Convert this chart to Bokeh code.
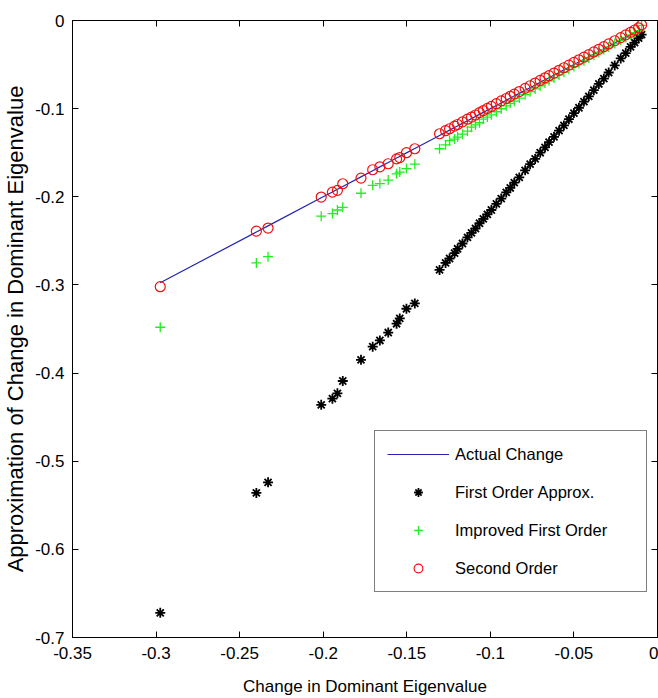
from bokeh.plotting import figure
from bokeh.models import LinearAxis, FixedTicker, Range1d
from bokeh.embed import file_html
from bokeh.resources import INLINE

# ---- data ----
actual = [-0.2975, -0.2400, -0.2330, -0.2012, -0.1945, -0.1915, -0.1883, -0.1774,
          -0.1704, -0.1661, -0.1611, -0.1561, -0.1542, -0.1502, -0.1452,
          -0.1304, -0.1268, -0.1244, -0.1214, -0.1196, -0.1167, -0.1137, -0.1113,
          -0.1089, -0.1065, -0.1042, -0.1018, -0.0994, -0.0964, -0.0935, -0.0905,
          -0.0881, -0.0857, -0.0827, -0.0792, -0.0762, -0.0732, -0.0702, -0.0673,
          -0.0649, -0.0619, -0.0589, -0.0560, -0.0530, -0.0500, -0.0470, -0.0440,
          -0.0411, -0.0381, -0.0351, -0.0321, -0.0292, -0.0256, -0.0220, -0.0190,
          -0.0161, -0.0137, -0.0113, -0.0095]

first_order = [-0.672, -0.536, -0.524, -0.436, -0.429, -0.423, -0.409, -0.385,
               -0.370, -0.363, -0.354, -0.344, -0.338, -0.327, -0.321,
               -0.283, -0.275, -0.270, -0.264, -0.259, -0.253, -0.246, -0.241,
               -0.236, -0.230, -0.225, -0.220, -0.215, -0.208, -0.202, -0.195,
               -0.190, -0.184, -0.178, -0.170, -0.163, -0.157, -0.150, -0.144,
               -0.138, -0.132, -0.125, -0.119, -0.112, -0.105, -0.099, -0.092,
               -0.086, -0.079, -0.072, -0.066, -0.059, -0.051, -0.043, -0.037,
               -0.030, -0.025, -0.020, -0.016]

improved_first = [-0.348, -0.275, -0.268, -0.222, -0.219, -0.215, -0.212, -0.196,
                  -0.187, -0.185, -0.181, -0.174, -0.172, -0.168, -0.163,
                  -0.1455, -0.1410, -0.1362, -0.1345, -0.1323, -0.1290, -0.1255, -0.1210,
                  -0.1185, -0.1160, -0.1118, -0.1096, -0.1070, -0.1035, -0.1001, -0.0968,
                  -0.0940, -0.0915, -0.0880, -0.0842, -0.0808, -0.0776, -0.0742, -0.0710,
                  -0.0684, -0.0651, -0.0618, -0.0586, -0.0554, -0.0521, -0.0489, -0.0457,
                  -0.0426, -0.0394, -0.0362, -0.0330, -0.0300, -0.0262, -0.0225, -0.0193,
                  -0.0163, -0.0139, -0.0114, -0.0055]

second_order = [-0.302, -0.239, -0.2355, -0.2003, -0.1947, -0.1927, -0.1852, -0.1788,
                -0.1693, -0.1660, -0.1625, -0.1570, -0.1555, -0.1500, -0.1455,
                -0.1285, -0.1250, -0.1228, -0.1198, -0.1180, -0.1150, -0.1120, -0.1096,
                -0.1072, -0.1045, -0.1022, -0.0998, -0.0975, -0.0944, -0.0912, -0.0885,
                -0.0860, -0.0835, -0.0806, -0.0770, -0.0740, -0.0710, -0.0680, -0.0650,
                -0.0626, -0.0596, -0.0565, -0.0536, -0.0506, -0.0476, -0.0446, -0.0416,
                -0.0387, -0.0357, -0.0327, -0.0297, -0.0266, -0.0230, -0.0194, -0.0163,
                -0.0134, -0.0108, -0.0083, -0.0050]

x_ticks = [-0.35, -0.3, -0.25, -0.2, -0.15, -0.1, -0.05, 0.0]
x_tick_labels = ["-0.35", "-0.3", "-0.25", "-0.2", "-0.15", "-0.1", "-0.05", "0"]
y_ticks = [-0.7, -0.6, -0.5, -0.4, -0.3, -0.2, -0.1, 0.0]
y_tick_labels = ["-0.7", "-0.6", "-0.5", "-0.4", "-0.3", "-0.2", "-0.1", "0"]

FONT = "Liberation Sans"

p = figure(width=658, height=698, output_backend="svg", toolbar_location=None,
           x_range=Range1d(-0.35, 0.0), y_range=Range1d(-0.7, 0.0),
           min_border_left=71, min_border_right=1, min_border_top=20,
           min_border_bottom=61, background_fill_color="white",
           border_fill_color="white")
p.xgrid.visible = False
p.ygrid.visible = False
p.outline_line_color = "black"
p.outline_line_width = 1

# glyphs
p.line(actual, actual, line_color="#2424b4", line_width=1.2, legend_label="Actual Change")
p.scatter(actual, first_order, marker="asterisk", size=10, line_color="black",
          line_width=1.8, legend_label="First Order Approx.")
p.scatter(actual, improved_first, marker="cross", size=10, line_color="#22ee22",
          line_width=1.3, legend_label="Improved First Order")
p.scatter(actual, second_order, marker="circle", size=10, line_color="#ee1111",
          fill_color=None, line_width=1.2, legend_label="Second Order")

def style_axis(ax, ticks, labels, show_labels=True):
    ax.ticker = FixedTicker(ticks=ticks)
    ax.major_tick_in = 6
    ax.major_tick_out = 0
    ax.minor_tick_in = 0
    ax.minor_tick_out = 0
    ax.axis_line_color = "black"
    ax.major_tick_line_color = "black"
    ax.axis_label_text_font = FONT
    ax.axis_label_text_font_style = "normal"
    ax.axis_label_text_color = "black"
    if show_labels:
        ax.major_label_overrides = {t: l for t, l in zip(ticks, labels)}
        ax.major_label_text_font = FONT
        ax.major_label_text_color = "black"
        ax.major_label_text_font_size = "17px"
    else:
        ax.major_label_text_color = None
        ax.major_label_text_font_size = "1px"
        ax.major_label_standoff = 0

xa = p.xaxis[0]
style_axis(xa, x_ticks, x_tick_labels)
xa.major_label_standoff = 9
xa.axis_label = "Change in Dominant Eigenvalue"
xa.axis_label_text_font_size = "17px"
xa.axis_label_standoff = 15

ya = p.yaxis[0]
style_axis(ya, y_ticks, y_tick_labels)
ya.major_label_standoff = 8
ya.axis_label = "Approximation of Change in Dominant Eigenvalue"
ya.axis_label_text_font_size = "22px"
ya.axis_label_standoff = 4

top = LinearAxis()
style_axis(top, x_ticks, x_tick_labels, show_labels=False)
p.add_layout(top, "above")
right = LinearAxis()
style_axis(right, y_ticks, y_tick_labels, show_labels=False)
p.add_layout(right, "right")

lg = p.legend[0]
lg.location = (302, 45)
lg.border_line_color = "black"
lg.border_line_width = 1
lg.background_fill_color = "white"
lg.background_fill_alpha = 1
lg.label_text_font = FONT
lg.label_text_font_size = "16.5px"
lg.label_text_color = "black"
lg.padding = 12
lg.margin = 0
lg.spacing = 16
lg.glyph_width = 62
lg.glyph_height = 22
lg.label_height = 22
lg.label_width = 179
lg.label_standoff = 6

open("out.html", "w").write(file_html(p, INLINE))
